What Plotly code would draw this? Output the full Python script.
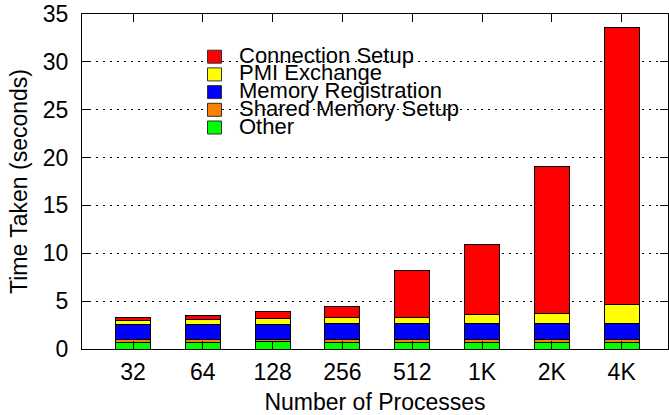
import plotly.graph_objects as go

# Process counts and per-phase startup times (seconds)
processes = ["32", "64", "128", "256", "512", "1K", "2K", "4K"]
other = [0.73, 0.73, 0.76, 0.73, 0.69, 0.69, 0.69, 0.69]
shared_memory_setup = [0.28, 0.28, 0.28, 0.28, 0.31, 0.31, 0.28, 0.28]
memory_registration = [1.60, 1.60, 1.56, 1.67, 1.63, 1.63, 1.67, 1.70]
pmi_exchange = [0.42, 0.45, 0.59, 0.59, 0.66, 0.97, 1.08, 2.01]
connection_setup = [0.28, 0.45, 0.69, 1.15, 4.86, 7.29, 15.34, 28.89]

y_ticks = [0, 5, 10, 15, 20, 25, 30, 35]

# stacking order, bottom to top
series = [
    ("Other", other, "#00ff00"),
    ("Shared Memory Setup", shared_memory_setup, "#ff8000"),
    ("Memory Registration", memory_registration, "#0000ff"),
    ("PMI Exchange", pmi_exchange, "#ffff00"),
    ("Connection Setup", connection_setup, "#ff0000"),
]

FONT = "Liberation Sans, Arial, sans-serif"
FS = 23
KEY_FS = 22
W, H = 669, 415
L, R, T, B = 82, 1, 14, 66

fig = go.Figure()
for name, vals, color in series:
    fig.add_trace(go.Bar(
        x=processes, y=vals, name=name,
        marker=dict(color=color, line=dict(color="black", width=1)),
        width=0.5, showlegend=False,
    ))

# key drawn in the upper-left of the plot, top entry first
pw, ph = W - L - R, H - T - B
def px_x(p):
    return (p - L) / pw
def px_y(p):
    return (H - B - p) / ph

shapes, annotations = [], []
for i, (name, vals, color) in enumerate(reversed(series)):
    cy = 56.7 + 17.7 * i
    shapes.append(dict(
        type="rect", xref="paper", yref="paper",
        x0=px_x(207.5), x1=px_x(221.5), y0=px_y(cy + 6.5), y1=px_y(cy - 6.5),
        fillcolor=color, line=dict(color="#333333", width=1),
    ))
    annotations.append(dict(
        xref="paper", yref="paper", x=px_x(237), y=px_y(cy - 1.5),
        xanchor="left", yanchor="middle", text=name, showarrow=False,
        font=dict(family=FONT, size=KEY_FS, color="black"),
    ))

fig.update_layout(
    width=W, height=H,
    margin=dict(l=L, r=R, t=T, b=B),
    barmode="stack",
    plot_bgcolor="white", paper_bgcolor="white",
    font=dict(family=FONT, size=FS, color="black"),
    shapes=shapes, annotations=annotations,
    xaxis=dict(
        type="category", range=[-0.731, 7.664],
        showline=True, linecolor="black", linewidth=1, mirror="ticks",
        ticks="inside", ticklen=8, tickcolor="black",
        showgrid=False, ticklabelstandoff=2,
        title=dict(text="Number of Processes", standoff=10,
                   font=dict(family=FONT, size=FS)),
    ),
    yaxis=dict(
        range=[0, 35], tickvals=y_ticks,
        showline=True, linecolor="black", linewidth=1, mirror="ticks",
        ticks="inside", ticklen=8, tickcolor="black",
        showgrid=True, gridcolor="black", gridwidth=1, griddash="2px,5px",
        zeroline=False, ticklabelstandoff=8,
        title=dict(text="Time Taken (seconds)", standoff=8,
                   font=dict(family=FONT, size=FS)),
    ),
)

fig.write_html("out.html")
